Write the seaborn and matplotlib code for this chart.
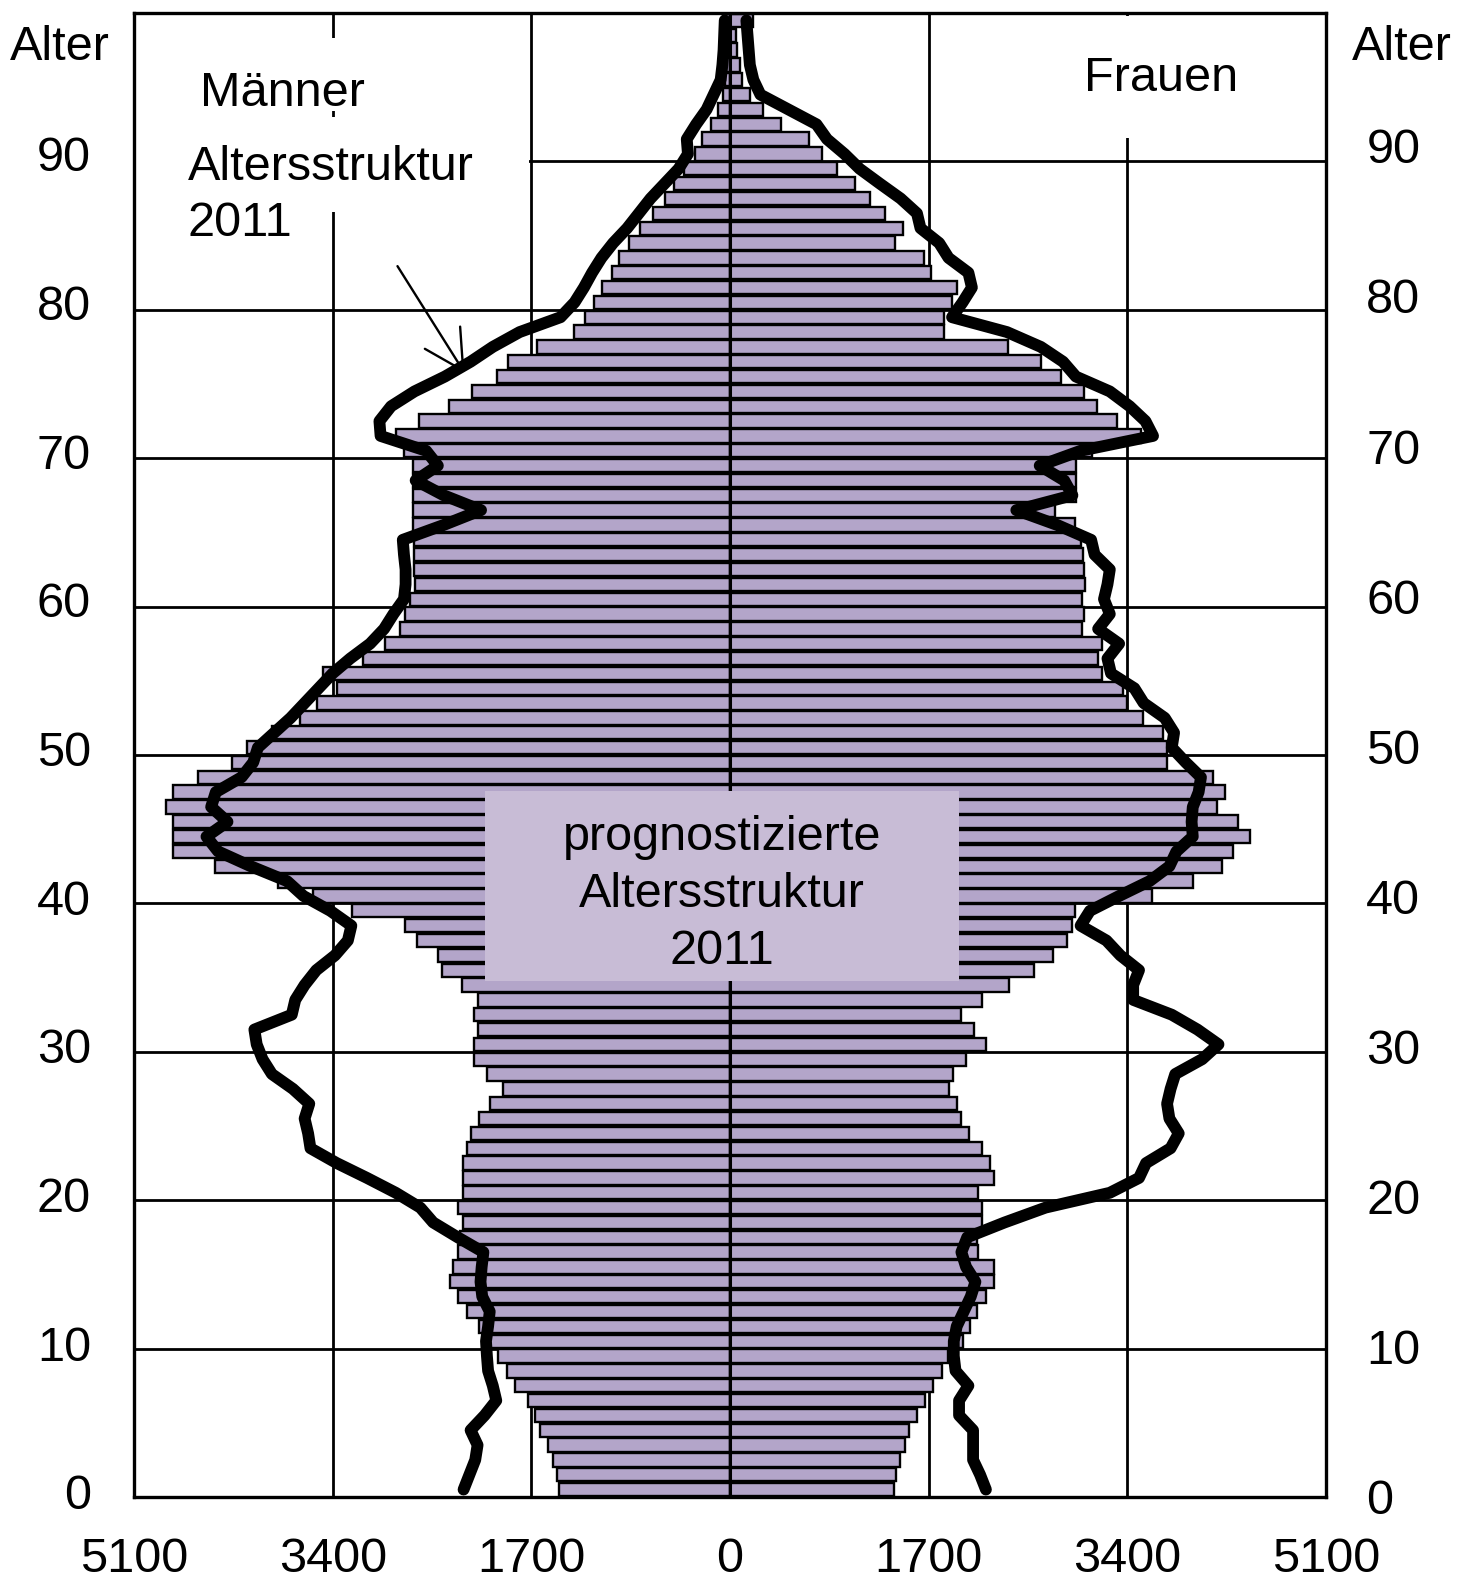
import numpy as np
import pandas as pd
import matplotlib
matplotlib.use('Agg')
import matplotlib.pyplot as plt
import seaborn as sns
from matplotlib.patches import Rectangle

# Alter 0..99
alter = list(range(100))

# prognostizierte Altersstruktur 2011 (Balken)
maenner = [1459, 1483, 1517, 1555, 1626, 1668, 1731, 1840, 1911, 1982,
           2060, 2148, 2253, 2325, 2396, 2367, 2330, 2310, 2287, 2325,
           2287, 2287, 2287, 2253, 2219, 2148, 2052, 1945, 2082, 2190,
           2190, 2153, 2190, 2153, 2296, 2467, 2500, 2681, 2780, 3237,
           3565, 3865, 4406, 4763, 4763, 4763, 4826, 4763, 4549, 4264,
           4135, 3921, 3679, 3536, 3365, 3479, 3137, 2950, 2823, 2780,
           2738, 2695, 2700, 2700, 2700, 2710, 2710, 2712, 2712, 2712,
           2790, 2860, 2665, 2404, 2207, 1998, 1901, 1651, 1335, 1240,
           1168, 1095, 1010, 950, 860, 770, 660, 560, 480, 390,
           300, 240, 160, 100, 60, 45, 35, 25, 20, 60]

frauen = [1403, 1420, 1455, 1497, 1534, 1597, 1668, 1740, 1811, 1868,
          1996, 2053, 2117, 2190, 2259, 2259, 2125, 2111, 2153, 2153,
          2125, 2259, 2225, 2153, 2048, 1974, 1945, 1877, 1905, 2019,
          2190, 2088, 1974, 2153, 2390, 2600, 2760, 2880, 2930, 2950,
          3608, 3964, 4207, 4306, 4449, 4349, 4164, 4235, 4135, 3736,
          3736, 3707, 3536, 3394, 3365, 3180, 3152, 3180, 3009, 3030,
          3009, 3040, 3030, 3020, 3000, 2950, 2780, 2960, 2960, 2960,
          3100, 3520, 3315, 3141, 3031, 2835, 2660, 2377, 1831, 1831,
          1896, 1940, 1722, 1656, 1416, 1482, 1329, 1198, 1067, 914,
          783, 674, 434, 281, 172, 106, 85, 63, 50, 200]

# Altersstruktur 2011 (Linie)
maenner_2011 = [2280, 2230, 2180, 2160, 2220, 2100, 2000, 2030, 2070, 2080,
                2088, 2070, 2056, 2120, 2135, 2125, 2110, 2330, 2540, 2650,
                2860, 3106, 3365, 3590, 3610, 3640, 3600, 3740, 3920, 4000,
                4050, 4070, 3750, 3720, 3640, 3540, 3380, 3270, 3240, 3420,
                3650, 3790, 4100, 4380, 4480, 4300, 4440, 4400, 4180, 4080,
                4040, 3900, 3760, 3640, 3520, 3400, 3250, 3080, 2960, 2880,
                2790, 2776, 2776, 2790, 2800, 2450, 2130, 2450, 2690, 2500,
                2600, 2990, 3000, 2900, 2700, 2440, 2220, 2030, 1800, 1450,
                1330, 1250, 1180, 1100, 1000, 880, 780, 680, 560, 440,
                360, 370, 290, 200, 140, 80, 65, 55, 50, 45]

frauen_2011 = [2190, 2140, 2080, 2080, 2080, 1960, 1960, 2040, 1930, 1915,
               1915, 1940, 2000, 2060, 2100, 2020, 1980, 2030, 2350, 2700,
               3250, 3500, 3560, 3770, 3840, 3760, 3740, 3770, 3810, 4040,
               4180, 4000, 3780, 3450, 3450, 3500, 3340, 3221, 3000, 3080,
               3330, 3590, 3760, 3820, 3960, 3950, 3960, 4010, 4030, 3900,
               3780, 3800, 3720, 3540, 3460, 3260, 3230, 3330, 3150, 3250,
               3200, 3230, 3250, 3120, 3090, 2800, 2450, 2930, 2860, 2650,
               3000, 3620, 3555, 3420, 3250, 2960, 2850, 2660, 2370, 1900,
               1990, 2070, 2040, 1870, 1790, 1630, 1600, 1460, 1283, 1110,
               980, 830, 740, 500, 260, 200, 170, 160, 150, 140]

x_ticks = [-5100, -3400, -1700, 0, 1700, 3400, 5100]
y_ticks = list(range(0, 100, 10))

bar_farbe = '#B3A5C9'
box_farbe = '#C8BCD6'

df = pd.DataFrame({'alter': np.array(alter) + 0.5,
                   'maenner': -np.array(maenner),
                   'frauen': np.array(frauen),
                   'maenner_2011': -np.array(maenner_2011),
                   'frauen_2011': np.array(frauen_2011)})

sns.set_style('white')
plt.rcParams['font.family'] = ['Liberation Sans', 'DejaVu Sans']
plt.rcParams['text.color'] = 'black'
plt.rcParams['xtick.color'] = 'black'
plt.rcParams['ytick.color'] = 'black'
plt.rcParams['axes.labelcolor'] = 'black'

fig = plt.figure(figsize=(14.73, 15.81), dpi=100)
rect = [134 / 1473, 84 / 1581, 1192 / 1473, 1484 / 1581]
ax = fig.add_axes(rect)

# Gitter
for x in [-3400, -1700, 1700, 3400]:
    ax.axvline(x, color='black', lw=2, zorder=0.8)
for y in range(10, 100, 10):
    ax.axhline(y, color='black', lw=2, zorder=0.8)

# weisse Hintergruende der Beschriftungen
ax.add_patch(Rectangle((-4600, 93.4), 2000, 4.9, fc='white', ec='none', zorder=0.9))
ax.add_patch(Rectangle((-5090, 86.6), 3370, 6.4, fc='white', ec='none', zorder=0.9))
ax.add_patch(Rectangle((2900, 91.6), 1600, 8.2, fc='white', ec='none', zorder=0.9))

# Balken
sns.barplot(data=df, x='maenner', y='alter', orient='y', native_scale=True,
            width=0.9, color=bar_farbe, saturation=1, edgecolor='black',
            linewidth=1.7, errorbar=None, ax=ax, zorder=2)
sns.barplot(data=df, x='frauen', y='alter', orient='y', native_scale=True,
            width=0.9, color=bar_farbe, saturation=1, edgecolor='black',
            linewidth=1.7, errorbar=None, ax=ax, zorder=2)

ax.axvline(0, color='black', lw=2.2, zorder=2.5)

# Kasten prognostizierte Altersstruktur
ax.add_patch(Rectangle((-2096, 34.8), 4055, 12.8, fc=box_farbe, ec='none', zorder=3))
ax.text(-68, 40.6, 'prognostizierte\nAltersstruktur\n2011', ha='center', va='center',
        fontsize=35, linespacing=1.33, zorder=3.5)

# Linien 2011
for spalte in ['maenner_2011', 'frauen_2011']:
    sns.lineplot(data=df, x=spalte, y='alter', sort=False, estimator=None,
                 orient='y', color='black', lw=8.5, ax=ax, zorder=4,
                 solid_joinstyle='round', solid_capstyle='round')

# Texte
ax.text(-3833, 94.6, 'Männer', ha='center', va='center', fontsize=35, zorder=5)
ax.text(-4642, 87.7, 'Altersstruktur\n2011', ha='left', va='center', fontsize=35,
        linespacing=1.33, zorder=5)
ax.text(3688, 95.6, 'Frauen', ha='center', va='center', fontsize=35, zorder=5)
ax.annotate('', xy=(-2259, 75.6), xytext=(-2858, 83.1),
            arrowprops=dict(arrowstyle='->, head_length=1.4, head_width=0.75',
                            lw=1.7, color='black', mutation_scale=20), zorder=5)

fig.text(60 / 1473, 1 - 48 / 1581, 'Alter', ha='center', va='center', fontsize=35)
fig.text(1402 / 1473, 1 - 48 / 1581, 'Alter', ha='center', va='center', fontsize=35)

# Achsen
ax.set_xlim(-5100, 5100)
ax.set_ylim(0, 100)
ax.set_xticks(x_ticks)
ax.set_xticklabels([str(abs(v)) for v in x_ticks])
ax.set_yticks(y_ticks)
ax.set_xlabel('')
ax.set_ylabel('')
ax.tick_params(axis='x', direction='out', length=9, width=2, labelsize=35, pad=20)
ax.tick_params(axis='y', direction='in', length=10, width=2, labelleft=False)
for s in ax.spines.values():
    s.set_color('black')
    s.set_linewidth(2.4)
    s.set_zorder(6)

# Beschriftung links
ax_l = fig.add_axes(rect, frameon=False)
ax_l.set_ylim(-0.34, 99.48)
ax_l.set_yticks(y_ticks)
ax_l.set_xticks([])
ax_l.tick_params(axis='y', length=0, labelsize=35, pad=31)
ax_l.patch.set_visible(False)

# Beschriftung rechts
ax_r = fig.add_axes(rect, frameon=False)
ax_r.set_ylim(0.13, 98.85)
ax_r.set_yticks(y_ticks)
ax_r.set_xticks([])
ax_r.yaxis.tick_right()
ax_r.tick_params(axis='y', length=0, labelsize=35, pad=29)
ax_r.patch.set_visible(False)

fig.savefig('out.png', dpi=100)
